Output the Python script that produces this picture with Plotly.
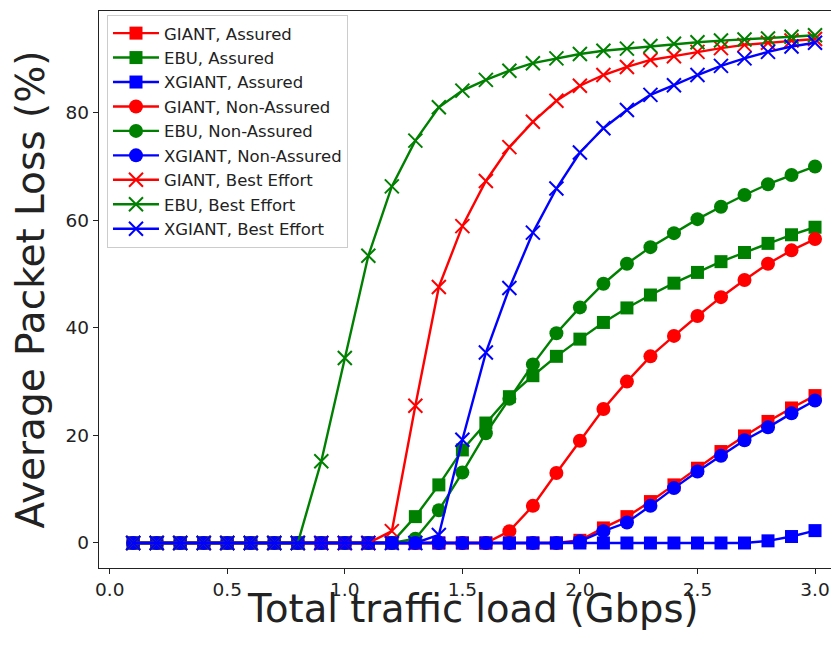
import plotly.graph_objects as go

x_load = [round(0.1 * i, 1) for i in range(1, 31)]

giant_assured = [0]*19 + [0.5, 2.8, 4.9, 7.7, 10.8, 13.9, 17.0, 19.9, 22.6, 25.1, 27.4]
ebu_assured = [0]*11 + [0.1, 4.9, 10.8, 17.3, 22.3, 27.2, 31.1, 34.7, 37.9, 41.0, 43.7, 46.1, 48.3, 50.3, 52.3, 54.0, 55.7, 57.3, 58.7]
xgiant_assured = [0]*27 + [0.4, 1.2, 2.3]
giant_na = [0]*16 + [2.2, 6.9, 13.0, 19.0, 24.9, 30.0, 34.7, 38.5, 42.2, 45.7, 48.9, 51.9, 54.4, 56.5]
ebu_na = [0]*12 + [0.8, 6.1, 13.1, 20.4, 26.8, 33.2, 39.0, 43.8, 48.2, 51.9, 55.0, 57.6, 60.2, 62.5, 64.7, 66.7, 68.4, 70.0]
xgiant_na = [0]*19 + [0.3, 2.2, 3.8, 6.9, 10.2, 13.3, 16.2, 19.1, 21.5, 24.1, 26.5]
giant_be = [0]*11 + [2.2, 25.5, 47.6, 58.9, 67.3, 73.6, 78.3, 82.2, 85.0, 87.0, 88.5, 89.8, 90.5, 91.3, 92.0, 92.6, 93.0, 93.4, 93.7]
ebu_be = [0]*8 + [15.2, 34.4, 53.4, 66.3, 74.8, 81.0, 84.1, 86.1, 87.8, 89.2, 90.1, 90.9, 91.5, 91.9, 92.4, 92.8, 93.1, 93.4, 93.6, 93.8, 94.1, 94.4]
xgiant_be = [0]*13 + [1.5, 19.2, 35.4, 47.4, 57.7, 65.9, 72.6, 77.1, 80.5, 83.3, 85.1, 87.0, 88.7, 90.1, 91.3, 92.3, 93.0]

x_title = "Total traffic load (Gbps)"
y_title = "Average Packet Loss (%)"

series = [
    ("GIANT, Assured", giant_assured, "#ff0000", "square"),
    ("EBU, Assured", ebu_assured, "#008000", "square"),
    ("XGIANT, Assured", xgiant_assured, "#0000ff", "square"),
    ("GIANT, Non-Assured", giant_na, "#ff0000", "circle"),
    ("EBU, Non-Assured", ebu_na, "#008000", "circle"),
    ("XGIANT, Non-Assured", xgiant_na, "#0000ff", "circle"),
    ("GIANT, Best Effort", giant_be, "#ff0000", "x-thin"),
    ("EBU, Best Effort", ebu_be, "#008000", "x-thin"),
    ("XGIANT, Best Effort", xgiant_be, "#0000ff", "x-thin"),
]

fig = go.Figure()
for name, ys, color, sym in series:
    if sym == "x-thin":
        marker = dict(symbol=sym, size=14, color=color, line=dict(color=color, width=2))
    elif sym == "square":
        marker = dict(symbol=sym, size=13, color=color, line=dict(width=0))
    else:
        marker = dict(symbol=sym, size=14, color=color, line=dict(width=0))
    fig.add_trace(go.Scatter(
        x=x_load, y=ys, name=name, mode="lines+markers",
        line=dict(color=color, width=2.4), marker=marker,
    ))

fig.update_layout(
    width=831, height=643,
    margin=dict(l=91, r=0, t=3, b=83),
    plot_bgcolor="white", paper_bgcolor="white",
    font=dict(family="DejaVu Sans", color="#222"),
    showlegend=True,
    legend=dict(
        x=0.0108, y=0.993, xanchor="left", yanchor="top",
        bgcolor="rgba(255,255,255,0.85)", bordercolor="#cccccc", borderwidth=1,
        font=dict(size=16.5, family="DejaVu Sans", color="#222"),
        itemwidth=46,
    ),
    xaxis=dict(
        range=[-0.0455, 3.102], tickmode="array",
        tickvals=[0, 0.5, 1.0, 1.5, 2.0, 2.5, 3.0], tickformat=".1f",
        showgrid=False, zeroline=False, showline=True, linecolor="#222", linewidth=1.3,
        mirror=True, ticks="outside", ticklen=5, tickcolor="#222", tickwidth=1.3,
        tickfont=dict(size=18.5),
    ),
    yaxis=dict(
        range=[-4.65, 98.9], tickmode="array", tickvals=[0, 20, 40, 60, 80],
        showgrid=False, zeroline=False, showline=True, linecolor="#222", linewidth=1.3,
        mirror=False, ticks="outside", ticklen=5, tickcolor="#222", tickwidth=1.3,
        tickfont=dict(size=18.5),
        title=dict(text=y_title, font=dict(size=39), standoff=8),
    ),
    annotations=[dict(
        text=x_title, xref="paper", yref="paper", x=0.505, y=0,
        xanchor="center", yanchor="middle", yshift=-40, showarrow=False,
        font=dict(size=38.5, family="DejaVu Sans", color="#222"),
    )],
)

fig.write_html("out.html")
